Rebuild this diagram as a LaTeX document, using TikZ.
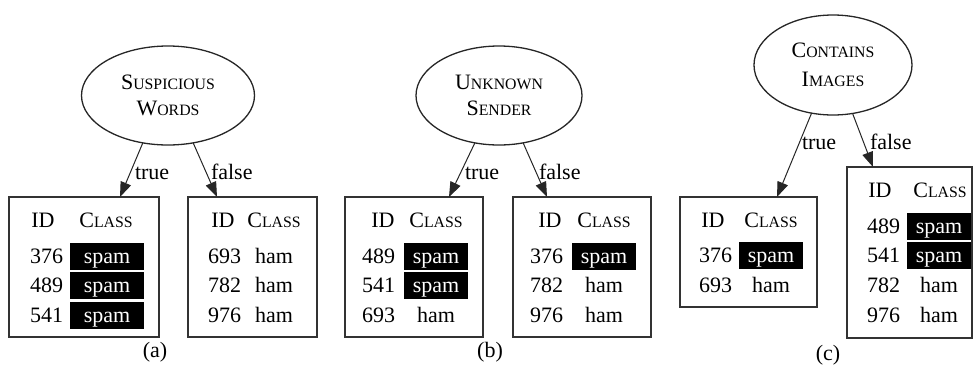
\documentclass[tikz,border=0pt]{standalone}
\usepackage{fontspec}
\setmainfont{Liberation Serif}
\usetikzlibrary{shapes.geometric,arrows.meta}
\newcommand\smc[2]{#1{\fontsize{15.8}{18}\selectfont #2}}
\begin{document}
\begin{tikzpicture}[x=1pt,y=-1pt,
  every node/.style={inner sep=0pt, outer sep=0pt},
  txt/.style={font=\fontsize{22}{26}\selectfont, text height=15pt, text depth=0pt},
  num/.style={txt, anchor=east},
  testnode/.style={ellipse, draw=black!85, line width=1.3pt, align=center, font=\fontsize{22}{26}\selectfont},
  tbox/.style={draw=black!80, line width=1.6pt},
  spambox/.style={txt, fill=black, text=white, minimum height=27pt},
  arr/.style={-{Triangle[length=15pt,width=11pt]}, line width=1pt, draw=black!85},
  lbl/.style={txt, anchor=west}
]
\useasboundingbox (0,0) rectangle (974,365);

% ---------------- (a) ----------------
\node[testnode, minimum width=173pt, minimum height=99pt] (ea) at (168,95.5) {\smc{S}{USPICIOUS}\\\smc{W}{ORDS}};
\node[tbox, minimum width=150pt, minimum height=140pt] (bal) at (84,267) {};
\node[tbox, minimum width=129pt, minimum height=140pt] (bar) at (252.5,267) {};
\draw[arr] (ea.242) -- ([xshift=111pt]bal.north west);
\draw[arr] (ea.298) -- ([xshift=29pt]bar.north west);
\node[lbl] (lat) at (135,172) {true};
\node[lbl] (laf) at (211,172) {false};
\node[txt] (alid) at (43,220) {ID};
\node[txt] (alcl) at (106,220) {\smc{C}{LASS}};
\node[num] (aln1) at (63,256) {376};
\node[spambox, minimum width=74pt] (alc1) at (107,256) {spam};
\node[num] (aln2) at (63,285) {489};
\node[spambox, minimum width=74pt] (alc2) at (107,285) {spam};
\node[num] (aln3) at (63,315) {541};
\node[spambox, minimum width=74pt] (alc3) at (107,315) {spam};
\node[txt] (arid) at (223,220) {ID};
\node[txt] (arcl) at (274,220) {\smc{C}{LASS}};
\node[num] (arn1) at (241,256) {693};
\node[txt] (arc1) at (274,256) {ham};
\node[num] (arn2) at (241,285) {782};
\node[txt] (arc2) at (274,285) {ham};
\node[num] (arn3) at (241,315) {976};
\node[txt] (arc3) at (274,315) {ham};
\node[txt] (capa) at (155,350) {(a)};

% ---------------- (b) ----------------
\node[testnode, minimum width=166pt, minimum height=99pt] (eb) at (499,95.5) {\smc{U}{NKNOWN}\\\smc{S}{ENDER}};
\node[tbox, minimum width=138pt, minimum height=140pt] (bbl) at (414,267) {};
\node[tbox, minimum width=138pt, minimum height=140pt] (bbr) at (582,267) {};
\draw[arr] (eb.243) -- ([xshift=104pt]bbl.north west);
\draw[arr] (eb.297) -- ([xshift=34pt]bbr.north west);
\node[lbl] (lbt) at (465,172) {true};
\node[lbl] (lbf) at (539,172) {false};
\node[txt] (blid) at (383,220) {ID};
\node[txt] (blcl) at (436,220) {\smc{C}{LASS}};
\node[num] (bln1) at (395,256) {489};
\node[spambox, minimum width=64pt] (blc1) at (436,256) {spam};
\node[num] (bln2) at (395,285) {541};
\node[spambox, minimum width=64pt] (blc2) at (436,285) {spam};
\node[num] (bln3) at (395,315) {693};
\node[txt] (blc3) at (436,315) {ham};
\node[txt] (brid) at (550,220) {ID};
\node[txt] (brcl) at (604,220) {\smc{C}{LASS}};
\node[num] (brn1) at (563,256) {376};
\node[spambox, minimum width=64pt] (brc1) at (604,256) {spam};
\node[num] (brn2) at (563,285) {782};
\node[txt] (brc2) at (604,285) {ham};
\node[num] (brn3) at (563,315) {976};
\node[txt] (brc3) at (604,315) {ham};
\node[txt] (capb) at (490,350) {(b)};

% ---------------- (c) ----------------
\node[testnode, minimum width=158pt, minimum height=100pt, font=\fontsize{22}{29}\selectfont] (ec) at (833,65) {\smc{C}{ONTAINS}\\\smc{I}{MAGES}};
\node[tbox, minimum width=137pt, minimum height=110pt] (bcl) at (748.5,252) {};
\node[tbox, minimum width=125pt, minimum height=171pt] (bcr) at (909.5,252.5) {};
\draw[arr] (ec.246.5) -- ([xshift=97pt]bcl.north west);
\draw[arr] (ec.292.5) -- ([xshift=26pt]bcr.north west);
\node[lbl] (lct) at (802,142) {true};
\node[lbl] (lcf) at (870,142) {false};
\node[txt] (clid) at (713,220) {ID};
\node[txt] (clcl) at (771,220) {\smc{C}{LASS}};
\node[num] (cln1) at (732,255) {376};
\node[spambox, minimum width=64pt] (clc1) at (771,255) {spam};
\node[num] (cln2) at (732,285) {693};
\node[txt] (clc2) at (771,285) {ham};
\node[txt] (crid) at (880,190) {ID};
\node[txt] (crcl) at (940,190) {\smc{C}{LASS}};
\node[num] (crn1) at (900,226) {489};
\node[spambox, minimum width=64pt] (crc1) at (939,226) {spam};
\node[num] (crn2) at (900,255) {541};
\node[spambox, minimum width=64pt] (crc2) at (939,255) {spam};
\node[num] (crn3) at (900,285) {782};
\node[txt] (crc3) at (939,285) {ham};
\node[num] (crn4) at (900,315) {976};
\node[txt] (crc4) at (939,315) {ham};
\node[txt] (capc) at (828,353) {(c)};
\end{tikzpicture}
\end{document}
